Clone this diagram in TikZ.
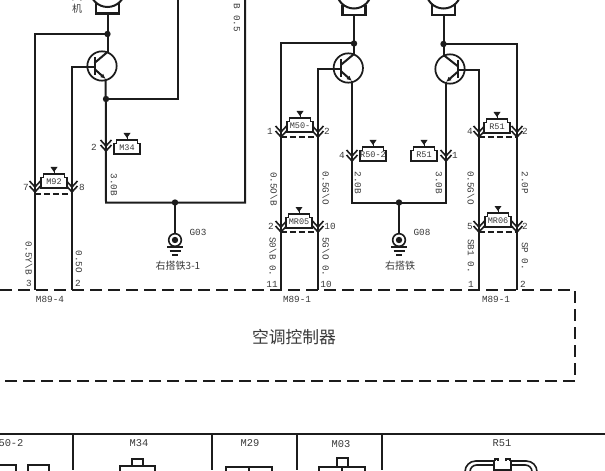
\documentclass[tikz,border=0pt]{standalone}
\usepackage{fontspec}
\setmainfont{Liberation Mono}
\newfontfamily\cjk{Noto Sans CJK SC}
\usetikzlibrary{arrows.meta,calc}
\definecolor{ink}{HTML}{1c1c1c}
\definecolor{txt}{HTML}{3a3a3a}
\tikzset{
 wire/.style={draw=ink,line width=1.5pt,line join=miter},
 thin wire/.style={draw=ink,line width=1.2pt},
 fine wire/.style={draw=ink,line width=.9pt},
 dashline/.style={draw=ink,line width=1.4pt,dash pattern=on 9pt off 4.5pt},
 shortdash/.style={draw=ink,line width=1.3pt,dash pattern=on 4.5pt off 2.2pt},
 dotj/.style={circle,fill=ink,inner sep=0pt,minimum size=4.8pt},
 lab/.style={text=txt,font=\fontsize{7}{8}\selectfont,inner sep=0pt},
 hlab/.style={text=txt,font=\fontsize{6.4}{7}\selectfont,inner sep=0pt},
 vlab/.style={lab,rotate=-90},
 tit/.style={text=txt,font=\fontsize{7.8}{8}\selectfont,inner sep=0pt},
 cjklab/.style={text=txt,font=\cjk\fontsize{7.5}{8}\selectfont,inner sep=0pt},
 pin/.style={lab},
}
\newcommand{\chev}[1]{%
 \draw[thin wire] ($(#1)+(-5.5,-6)$) -- (#1) -- ($(#1)+(5.5,-6)$);
 \draw[thin wire] ($(#1)+(-5.5,-1)$) -- ($(#1)+(0,5)$) -- ($(#1)+(5.5,-1)$);
}
\newcommand{\housing}[3]{%
 \draw[thin wire,fill=white] ($(#1)+(-13,7)$) -- ($(#1)+(-13,-3.5)$) -- ($(#1)+(-10.5,-3.5)$) -- ($(#1)+(-10.5,-7)$) -- ($(#1)+(10.5,-7)$) -- ($(#1)+(10.5,-3.5)$) -- ($(#1)+(13,-3.5)$) -- ($(#1)+(13,7)$) -- cycle;
 \node[hlab] (#3) at ($(#1)+(0,1)$) {#2};
 \fill[ink] ($(#1)+(-3.5,-14)$) -- ($(#1)+(3.5,-14)$) -- ($(#1)+(0,-9)$) -- cycle;
 \draw[ink,line width=.6pt] ($(#1)+(0,-10)$) -- ($(#1)+(0,-7)$);
}
\newcommand{\motor}[3]{% cx, bracket top y, name
 \coordinate (#3) at (#1,#2+7);
 \draw[wire] (#1,#2-17) circle[radius=17.5];
 \draw[wire,line width=1.6pt] (#1-11.5,#2-3) -- (#1-11.5,#2+7) -- (#1+11.5,#2+7) -- (#1+11.5,#2-3);
}
\newcommand{\trans}[6]{%
 \node[circle,draw=ink,line width=1.3pt,minimum size=22pt,inner sep=0pt] (#1) at (#2,#3) {};
 \coordinate (#1b) at (#2-#4*7.5,#3+1);
 \coordinate (#1c) at (#2+#5,#3-14);
 \coordinate (#1e) at (#2+#6,#3+13);
 \draw[wire] (#2-#4*7.5,#3-9) -- (#2-#4*7.5,#3+9);
 \draw[wire] (#2-#4*7.5,#3-3) -- (#1c);
 \draw[wire,-{Latex[length=4pt,width=3.5pt]}] (#2-#4*7.5,#3+3) -- (#1e);
}
\newcommand{\ground}[3]{%
 \node[circle,draw=ink,line width=1.2pt,minimum size=9.5pt,inner sep=0pt] (#1) at (#2,#3) {};
 \fill[ink] (#2,#3) circle (3.2);
 \draw[wire] (#2-8,#3+6.5) -- (#2+8,#3+6.5);
 \draw[wire] (#2-5.5,#3+10.5) -- (#2+5.5,#3+10.5);
 \draw[wire] (#2-3,#3+14.5) -- (#2+3,#3+14.5);
}
\begin{document}
\begin{tikzpicture}[x=0.75pt,y=-0.75pt]
\useasboundingbox (0,0) rectangle (605,470);
\clip (0,0) rectangle (605,470);
\fill[white] (0,0) rectangle (605,470);

\coordinate (top1) at (178,0);
\coordinate (top2) at (245,0);
\coordinate (c1) at (107.5,34);
\coordinate (c2) at (354,43.5);
\coordinate (c3) at (443.5,44);
\coordinate (e1) at (106,99);
\coordinate (b1) at (106,202.5);
\coordinate (jg1) at (175,202.5);
\coordinate (b1r) at (245,202.5);
\coordinate (b2l) at (352,202.5);
\coordinate (jg2) at (399,202.5);
\coordinate (b2r) at (446,202.5);
\coordinate (w1) at (35,290);
\coordinate (w2) at (72,290);
\coordinate (w3) at (281,290);
\coordinate (w4) at (318,290);
\coordinate (w5) at (479,290);
\coordinate (w6) at (517,290);

\motor{107.5}{6.5}{m1}
\motor{354}{8}{m2}
\motor{443.5}{8}{m3}

\trans{t1}{102}{66}{1}{5.5}{3.7}
\trans{t2}{348.3}{68}{1}{5.7}{3.7}
\trans{t3}{450}{69}{-1}{-6.5}{-4}

\ground{g1}{175}{240}
\ground{g2}{399}{240}

\draw[wire] (m1) -- (t1c);
\draw[wire] (m2) -- (t2c);
\draw[wire] (m3) -- (t3c);
\draw[wire] (c1) -| (w1);
\draw[wire] (t1b) -| (w2);
\draw[wire] (c2) -| (w3);
\draw[wire] (t2b) -| (w4);
\draw[wire] (c3) -| (w6);
\draw[wire] (t3b) -| (w5);
\draw[wire] (t1e) -- (b1) -- (b1r) -- (top2);
\draw[wire] (e1) -| (top1);
\draw[wire] (t2e) -- (b2l) -- (b2r) -- (t3e);
\draw[wire] (jg1) -- (g1);
\draw[wire] (jg2) -- (g2);
\node[dotj] (j1) at (c1) {};
\node[dotj] (j2) at (e1) {};
\node[dotj] (j3) at (jg1) {};
\node[dotj] (j4) at (c2) {};
\node[dotj] (j5) at (c3) {};
\node[dotj] (j6) at (jg2) {};

\chev{106,146}
\chev{35,187}\chev{72,187}
\chev{281,132}\chev{318,132}
\chev{352,156}\chev{446,156}
\chev{479,132}\chev{517,132}
\chev{281,227}\chev{318,227}
\chev{479,227}\chev{517,227}

\draw[shortdash] (35,194) -- (72,194);
\draw[shortdash] (281,137) -- (318,137);
\draw[shortdash] (479,137) -- (517,137);
\draw[shortdash] (281,232) -- (318,232);
\draw[shortdash] (479,232) -- (517,232);

\housing{127,147}{M34}{h1}
\housing{54,181}{M92}{h2}
\housing{300,125}{M50-}{h3}
\housing{373,154}{R50-2}{h4}
\housing{424,154}{R51}{h5}
\housing{497,126}{R51}{h6}
\housing{299,221}{MR05}{h7}
\housing{498,220}{MR06}{h8}

\draw[dashline] (0,290) -- (575,290) -- (575,381) -- (0,381);
\node[text=txt,font=\cjk\fontsize{12.6}{13}\selectfont,inner sep=0pt] (ctl) at (294,337.5) {空调控制器};

\node[cjklab] (fj1) at (77,-3) {风};
\node[cjklab] (fj2) at (77,9) {机};
\node[lab] (g03) at (198,232) {G03};
\node[lab] (g08) at (422,232) {G08};
\node[cjklab] (gl1) at (178,265.5) {右搭铁3-1};
\node[cjklab] (gl2) at (400,265.5) {右搭铁};
\node[lab] (c841) at (50,299) {M89-4};
\node[lab] (c842) at (297,299) {M89-1};
\node[lab] (c843) at (496,299) {M89-1};

\node[vlab] (v1) at (237,18) {B 0.5};
\node[vlab] (v2) at (114,185) {3.0B};
\node[vlab] (v3) at (29,258) {0.5Y\textbackslash B};
\node[vlab] (v4) at (79,262) {0.5O};
\node[vlab] (v5) at (274,189) {0.5O\textbackslash B};
\node[vlab] (v6) at (326,188) {0.5G\textbackslash O};
\node[vlab] (v7) at (358,183) {2.0B};
\node[vlab] (v8) at (439,183) {3.0B};
\node[vlab] (v9) at (471,188) {0.5G\textbackslash O};
\node[vlab] (v10) at (525,183) {2.0P};
\node[vlab] (v11) at (273,257) {S0\textbackslash B 0.};
\node[vlab] (v12) at (326,257) {5G\textbackslash O 0.};
\node[vlab] (v13) at (471,256) {SB1 0.};
\node[vlab] (v14) at (525,256) {SP 0.};

\foreach \n/\x/\y/\t in {a/94/147/2,b/26/187/7,c/82/187/8,d/29/283/3,e/78/283/2,f/270/131/1,g/327/131/2,h/342/155/4,i/455/155/1,j/470/131/4,k/525/131/2,l/271/226/2,m/330/226/10,n/272/284/11,o/326/284/10,p/470/226/5,q/525/226/2,r/471/284/1,s/523/284/2}
  \node[pin] (p\n) at (\x,\y) {\t};

\draw[wire] (0,433.5) -- (605,433.5);
\draw[wire] (73,433.5) -- (73,470);
\draw[wire] (212,433.5) -- (212,470);
\draw[wire] (297,433.5) -- (297,470);
\draw[wire] (382,433.5) -- (382,470);
\node[tit] (t0) at (11,443) {50-2};
\node[tit] (t2) at (139,443) {M34};
\node[tit] (t3) at (250,443.5) {M29};
\node[tit] (t4) at (341,444) {M03};
\node[tit] (t5) at (502,443.5) {R51};

\draw[thin wire] (0,465) -- (16,465) -- (16,475);
\draw[thin wire] (28,475) -- (28,465) -- (49,465) -- (49,475);
\draw[thin wire] (120,475) -- (120,466) -- (155,466) -- (155,475);
\draw[thin wire] (132,466) -- (132,459) -- (143,459) -- (143,466);
\draw[thin wire] (226,475) -- (226,467) -- (272,467) -- (272,475);
\draw[thin wire] (249,467) -- (249,475);
\draw[thin wire] (319,475) -- (319,467) -- (365,467) -- (365,475);
\draw[thin wire] (337,467) -- (337,458) -- (348,458) -- (348,467);
\draw[thin wire] (342,467) -- (342,475);
\draw[thin wire,rounded corners=8pt] (465,478) -- (465,461) -- (494,461);
\draw[thin wire,rounded corners=8pt] (511,461) -- (537,461) -- (537,478);
\draw[thin wire,rounded corners=5pt] (470,478) -- (470,465) -- (494,465);
\draw[thin wire,rounded corners=5pt] (511,465) -- (532,465) -- (532,478);
\draw[thin wire] (494,461) -- (494,470) -- (511,470) -- (511,461);
\draw[fine wire] (495,461) -- (495,459) -- (498,459) -- (498,461);
\draw[fine wire] (506,461) -- (506,459) -- (510,459) -- (510,461);
\end{tikzpicture}
\end{document}
